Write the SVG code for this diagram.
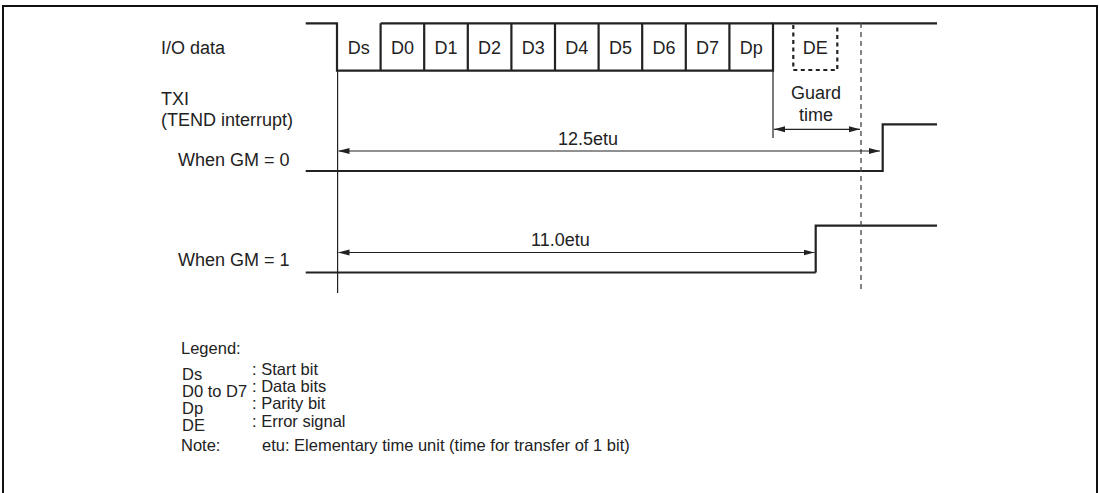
<svg xmlns="http://www.w3.org/2000/svg" width="1100" height="493" viewBox="0 0 1100 493">
<style>
text{font-family:"Liberation Sans",Arial,sans-serif;font-size:18px;fill:#222}
.mid{text-anchor:middle}
text.lg{font-size:16.5px}
.sig{fill:none;stroke:#222;stroke-width:2.2}
.thin{fill:none;stroke:#222;stroke-width:1.2}
.dash{fill:none;stroke:#444;stroke-width:1.3;stroke-dasharray:5 4}
.dbox{fill:none;stroke:#222;stroke-width:2.2;stroke-dasharray:4 3.5}
.arr{fill:none;stroke:#222;stroke-width:1.2;marker-end:url(#ah);marker-start:url(#ahs)}
</style>
<defs>
<marker id="ah" markerUnits="userSpaceOnUse" markerWidth="12" markerHeight="8" refX="11" refY="4" orient="auto"><path d="M0,1 L11,4 L0,7 Z" fill="#222"/></marker>
<marker id="ahs" markerUnits="userSpaceOnUse" markerWidth="12" markerHeight="8" refX="0" refY="4" orient="auto"><path d="M11,1 L0,4 L11,7 Z" fill="#222"/></marker>
</defs>
<rect x="3" y="6" width="1094" height="500" fill="#fff" stroke="#111" stroke-width="2"/>

<g id="labels">
<text x="161" y="54">I/O data</text>
<text x="161" y="105">TXI</text>
<text x="161" y="126">(TEND interrupt)</text>
<text x="178" y="166">When GM = 0</text>
<text x="178" y="266">When GM = 1</text>
</g>

<g id="io-data">
<path class="sig" d="M305.7,23.3 H337 V70.7 H773 V23.3 H937"/>
<path class="sig" d="M380.6,23.3 H773"/>
<path class="sig" d="M380.6,23.3 V70.7 M424.2,23.3 V70.7 M467.8,23.3 V70.7 M511.4,23.3 V70.7 M555,23.3 V70.7 M598.6,23.3 V70.7 M642.2,23.3 V70.7 M685.8,23.3 V70.7 M729.4,23.3 V70.7"/>
<g class="mid">
<text x="358.8" y="54">Ds</text>
<text x="402.4" y="54">D0</text>
<text x="446" y="54">D1</text>
<text x="489.6" y="54">D2</text>
<text x="533.2" y="54">D3</text>
<text x="576.8" y="54">D4</text>
<text x="620.4" y="54">D5</text>
<text x="664" y="54">D6</text>
<text x="707.6" y="54">D7</text>
<text x="751.2" y="54">Dp</text>
</g>
</g>

<g id="de-box">
<path class="dbox" d="M793.3,25 V70 H837.3 V25"/>
<text class="mid" x="815.3" y="54">DE</text>
</g>

<g id="guard-time">
<text class="mid" x="816" y="99">Guard</text>
<text class="mid" x="816" y="121">time</text>
</g>

<g id="gm0">
<path class="sig" d="M305.7,171 H882.7 V124.3 H937" stroke-width="2.6"/>
</g>

<g id="gm1">
<path class="sig" d="M305.7,272.5 H815.7" stroke-width="2.6"/>
<path class="sig" d="M815.7,272.5 V225.7 H937" stroke-width="1.6"/>
</g>

<g id="connectors">
<path class="thin" d="M337.6,71 V293"/>
<path class="thin" d="M773,71 V138"/>
<path class="dash" d="M861,23 V293"/>
<path class="arr" d="M774,129.3 H860"/>
<path class="arr" d="M338.5,151 H880"/>
<path class="arr" d="M338.5,252.5 H814.5"/>
<text x="558" y="145">12.5etu</text>
<text x="531" y="246">11.0etu</text>
</g>

<g id="legend">
<text class="lg" x="181" y="354">Legend:</text>
<text class="lg" x="182" y="380">Ds</text>
<text class="lg" x="182" y="397">D0 to D7</text>
<text class="lg" x="182" y="414">Dp</text>
<text class="lg" x="182" y="431">DE</text>
<text class="lg" x="252" y="375">: Start bit</text>
<text class="lg" x="252" y="392">: Data bits</text>
<text class="lg" x="252" y="409">: Parity bit</text>
<text class="lg" x="252" y="426.5">: Error signal</text>
<text class="lg" x="181" y="451">Note:</text>
<text class="lg" x="262" y="451">etu: Elementary time unit (time for transfer of 1 bit)</text>
</g>
</svg>
